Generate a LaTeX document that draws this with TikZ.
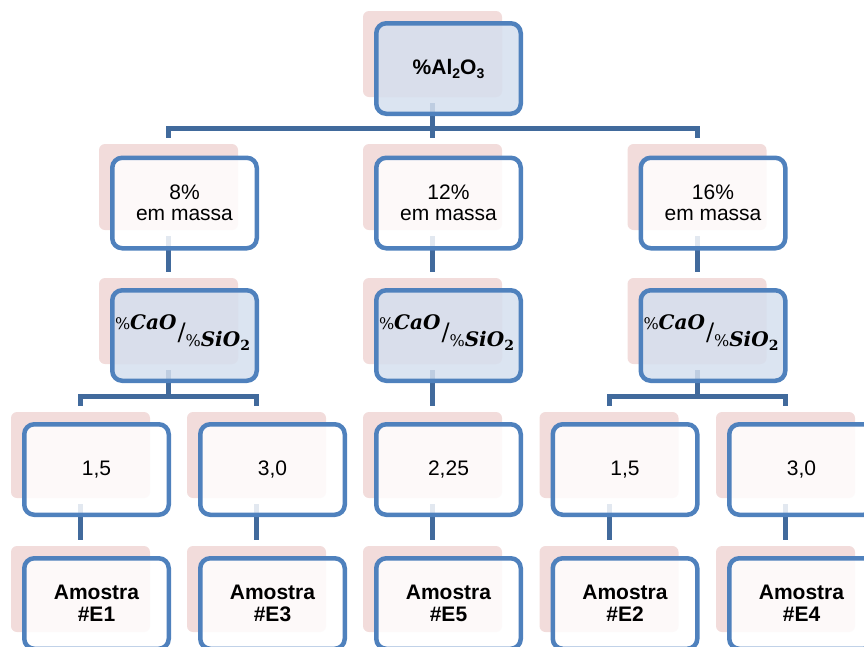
\documentclass[tikz,border=0pt]{standalone}
\usepackage{fontspec}
\setmainfont{Liberation Sans}
\newfontfamily\mfont{DejaVu Serif}
\usetikzlibrary{calc}
\definecolor{pinkc}{HTML}{F2DCDB}
\definecolor{borderc}{HTML}{4F81BD}
\definecolor{connc}{HTML}{416A9C}
\definecolor{bluefill}{HTML}{D5DFEE}
\newcommand\ratiotext{\mfont\raisebox{11pt}{{\fontsize{16}{16}\selectfont\%}{\fontsize{20}{20}\selectfont\bfseries\itshape CaO}}\kern1pt{\fontsize{24}{24}\selectfont/}\raisebox{-6pt}{{\fontsize{16}{16}\selectfont\%}{\fontsize{20}{20}\selectfont\bfseries\itshape SiO}\raisebox{-4pt}{\fontsize{14}{14}\selectfont\bfseries 2}}}
\newcommand\alotext{\textbf{\%Al\raisebox{-4pt}{\fontsize{14}{14}\selectfont 2}O\raisebox{-4pt}{\fontsize{14}{14}\selectfont 3}}}
\begin{document}
\begin{tikzpicture}[x=1pt,y=-1pt,
 pinkbox/.style={fill=pinkc, rounded corners=6pt, minimum width=139pt, minimum height=86pt, inner sep=0pt, draw=none},
 boxbase/.style={draw=borderc, line width=4.5pt, rounded corners=10pt, minimum width=144.5pt, minimum height=90.5pt, inner sep=0pt, align=center, font=\fontsize{21}{21.5}\selectfont, fill opacity=0.85, text opacity=1},
 wbox/.style={boxbase, fill=white},
 bbox/.style={boxbase, fill=bluefill},
 conn/.style={draw=connc, line width=5pt}]
\useasboundingbox (0,0) rectangle (864,646);
\clip (0,0) rectangle (864,646);
% pink shadows
\node[pinkbox] (p1) at (432.5,54) {};
\node[pinkbox] (p21) at (168.5,187) {};
\node[pinkbox] (p22) at (432.5,187) {};
\node[pinkbox] (p23) at (697,187) {};
\node[pinkbox] (p31) at (168.5,321) {};
\node[pinkbox] (p32) at (432.5,321) {};
\node[pinkbox] (p33) at (697,321) {};
\node[pinkbox] (p41) at (80.5,455) {};
\node[pinkbox] (p42) at (256.5,455) {};
\node[pinkbox] (p43) at (432.5,455) {};
\node[pinkbox] (p44) at (609,455) {};
\node[pinkbox] (p45) at (785.5,455) {};
\node[pinkbox] (p51) at (80.5,589) {};
\node[pinkbox] (p52) at (256.5,589) {};
\node[pinkbox] (p53) at (432.5,589) {};
\node[pinkbox] (p54) at (609,589) {};
\node[pinkbox] (p55) at (785.5,589) {};
% connectors
\coordinate (j1) at (432.5,128);
\draw[conn] ($(p1.south)+(0,6)$) -- (j1);
\draw[conn] ($(p21.north)+(0,-6)$) |- (j1) -| ($(p23.north)+(0,-6)$);
\draw[conn] (j1) -- ($(p22.north)+(0,-6)$);
\draw[conn] ($(p21.south)+(0,6)$) -- ($(p31.north)+(0,-6)$);
\draw[conn] ($(p22.south)+(0,6)$) -- ($(p32.north)+(0,-6)$);
\draw[conn] ($(p23.south)+(0,6)$) -- ($(p33.north)+(0,-6)$);
\coordinate (j31) at (168.5,396);
\coordinate (j33) at (697,396);
\draw[conn] ($(p31.south)+(0,6)$) -- (j31);
\draw[conn] ($(p41.north)+(0,-6)$) |- (j31) -| ($(p42.north)+(0,-6)$);
\draw[conn] ($(p32.south)+(0,6)$) -- ($(p43.north)+(0,-6)$);
\draw[conn] ($(p33.south)+(0,6)$) -- (j33);
\draw[conn] ($(p44.north)+(0,-6)$) |- (j33) -| ($(p45.north)+(0,-6)$);
\draw[conn] ($(p41.south)+(0,6)$) -- ($(p51.north)+(0,-6)$);
\draw[conn] ($(p42.south)+(0,6)$) -- ($(p52.north)+(0,-6)$);
\draw[conn] ($(p43.south)+(0,6)$) -- ($(p53.north)+(0,-6)$);
\draw[conn] ($(p44.south)+(0,6)$) -- ($(p54.north)+(0,-6)$);
\draw[conn] ($(p45.south)+(0,6)$) -- ($(p55.north)+(0,-6)$);
% boxes
\node[bbox] (b1) at ($(p1)+(16,14.5)$) {\alotext};
\node[wbox] (b21) at ($(p21)+(16,16)$) {8\%\\em massa};
\node[wbox] (b22) at ($(p22)+(16,16)$) {12\%\\em massa};
\node[wbox] (b23) at ($(p23)+(16,16)$) {16\%\\em massa};
\node[bbox] (b31) at ($(p31)+(16,14.5)$) {};
\node[bbox] (b32) at ($(p32)+(16,14.5)$) {};
\node[bbox] (b33) at ($(p33)+(16,14.5)$) {};
\node[anchor=base] (t31) at ($(b31.center)+(-2,5)$) {\ratiotext};
\node[anchor=base] (t32) at ($(b32.center)+(-2,5)$) {\ratiotext};
\node[anchor=base] (t33) at ($(b33.center)+(-2,5)$) {\ratiotext};
\node[wbox] (b41) at ($(p41)+(16,14.5)$) {1,5};
\node[wbox] (b42) at ($(p42)+(16,14.5)$) {3,0};
\node[wbox] (b43) at ($(p43)+(16,14.5)$) {2,25};
\node[wbox] (b44) at ($(p44)+(16,14.5)$) {1,5};
\node[wbox] (b45) at ($(p45)+(16,14.5)$) {3,0};
\node[wbox] (b51) at ($(p51)+(16,14.5)$) {\textbf{Amostra}\\\textbf{\#E1}};
\node[wbox] (b52) at ($(p52)+(16,14.5)$) {\textbf{Amostra}\\\textbf{\#E3}};
\node[wbox] (b53) at ($(p53)+(16,14.5)$) {\textbf{Amostra}\\\textbf{\#E5}};
\node[wbox] (b54) at ($(p54)+(16,14.5)$) {\textbf{Amostra}\\\textbf{\#E2}};
\node[wbox] (b55) at ($(p55)+(16,14.5)$) {\textbf{Amostra}\\\textbf{\#E4}};
\end{tikzpicture}
\end{document}
